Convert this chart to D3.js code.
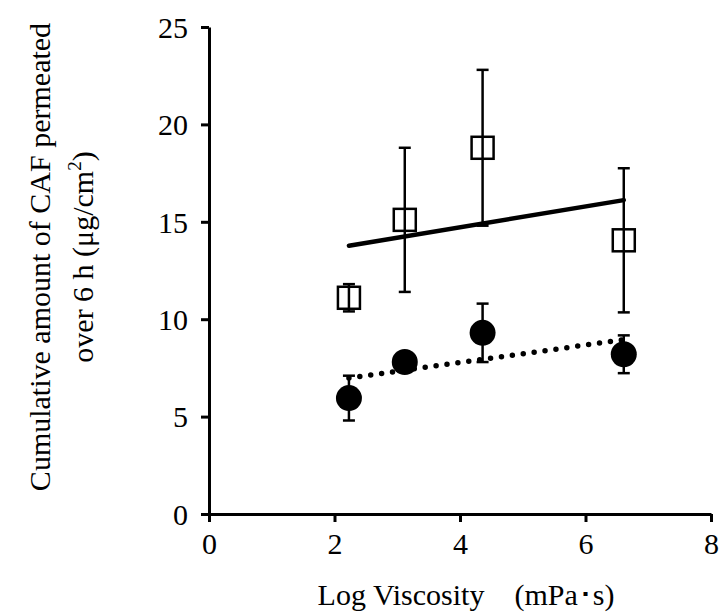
<!DOCTYPE html>
<html><head><meta charset="utf-8">
<script src="https://cdn.jsdelivr.net/npm/d3@7"></script>
<style>body{margin:0;background:#fff}svg{display:block}</style>
</head><body><svg id="c" width="722" height="614"></svg>
<script>
const logViscosity = [2.23, 3.12, 4.36, 6.61];
const openValues = [11.1, 15.1, 18.8, 14.05];
const openErrors = [0.7, 3.7, 4.0, 3.7];
const filledValues = [5.95, 7.8, 9.3, 8.2];
const filledErrors = [1.15, 0.3, 1.5, 0.97];
const xTicks = [0, 2, 4, 6, 8];
const yTicks = [0, 5, 10, 15, 20, 25];

const svg = d3.select("#c");
const x = d3.scaleLinear().domain([0, 8]).range([209, 711]);
const y = d3.scaleLinear().domain([0, 25]).range([514, 27]);
const font = "'Liberation Serif','Times New Roman',serif";
const fs = 30;

function fit(xs, ys){
  const mx = d3.mean(xs), my = d3.mean(ys);
  let sxy = 0, sxx = 0;
  xs.forEach((v,i)=>{sxy += (v-mx)*(ys[i]-my); sxx += (v-mx)*(v-mx);});
  const b = sxy/sxx, a = my - b*mx;
  const ext = d3.extent(xs);
  return ext.map(v => [v, a + b*v]);
}

// axes
const gx = svg.append("g").attr("transform", `translate(0,${y(0)})`)
  .call(d3.axisBottom(x).tickValues(xTicks).tickSize(8).tickSizeOuter(0).tickPadding(9));
const gy = svg.append("g").attr("transform", `translate(${x(0)},0)`)
  .call(d3.axisLeft(y).tickValues(yTicks).tickSize(8).tickSizeOuter(0).tickPadding(13));
[gx, gy].forEach(g => {
  g.select(".domain").attr("stroke", "#000").attr("stroke-width", 3);
  g.selectAll(".tick line").attr("stroke", "#000").attr("stroke-width", 3);
  g.selectAll(".tick text").attr("font-family", font).attr("font-size", fs).attr("fill", "#000");
});
gy.selectAll(".tick text").attr("dy", "0.34em");
gx.selectAll(".tick text").attr("dy", "0.75em");

// trend lines
const line = d3.line().x(d => x(d[0])).y(d => y(d[1]));
svg.append("path").attr("d", line(fit(logViscosity, openValues)))
  .attr("fill", "none").attr("stroke", "#000").attr("stroke-width", 4.5).attr("stroke-linecap", "round");
svg.append("path").attr("d", line(fit(logViscosity, filledValues)))
  .attr("fill", "none").attr("stroke", "#000").attr("stroke-width", 5.5)
  .attr("stroke-linecap", "round").attr("stroke-dasharray", "0,11");

// error bars
function errorBars(vals, errs){
  const g = svg.append("g").attr("stroke", "#000").attr("stroke-width", 2.5);
  logViscosity.forEach((xv, i) => {
    const top = y(vals[i] + errs[i]), bot = y(vals[i] - errs[i]), cx = x(xv);
    g.append("line").attr("x1", cx).attr("x2", cx).attr("y1", top).attr("y2", bot);
    g.append("line").attr("x1", cx-6).attr("x2", cx+6).attr("y1", top).attr("y2", top);
    g.append("line").attr("x1", cx-6).attr("x2", cx+6).attr("y1", bot).attr("y2", bot);
  });
}
errorBars(openValues, openErrors);
errorBars(filledValues, filledErrors);

// markers
const sq = 22;
svg.append("g").selectAll("rect").data(logViscosity).join("rect")
  .attr("x", d => x(d) - sq/2).attr("y", (d,i) => y(openValues[i]) - sq/2)
  .attr("width", sq).attr("height", sq)
  .attr("fill", "none").attr("stroke", "#000").attr("stroke-width", 2.5);
svg.append("g").selectAll("circle").data(logViscosity).join("circle")
  .attr("cx", d => x(d)).attr("cy", (d,i) => y(filledValues[i])).attr("r", 13).attr("fill", "#000");

// axis titles
svg.append("text").attr("x", 466).attr("y", 605).attr("text-anchor", "middle")
  .attr("font-family", font).attr("font-size", fs).attr("fill", "#000")
  .text("Log Viscosity　(mPa･s)");
const yt = svg.append("g").attr("transform", "translate(0,257) rotate(-90)")
  .attr("font-family", font).attr("font-size", fs).attr("fill", "#000").attr("text-anchor", "middle");
yt.append("text").attr("x", 0).attr("y", 50).text("Cumulative amount of CAF permeated");
const t2 = yt.append("text").attr("x", 0).attr("y", 93);
t2.append("tspan").text("over 6 h (μg/cm");
t2.append("tspan").attr("font-size", 19).attr("dy", -12).text("2");
t2.append("tspan").attr("dy", 12).text(")");
</script></body></html>
